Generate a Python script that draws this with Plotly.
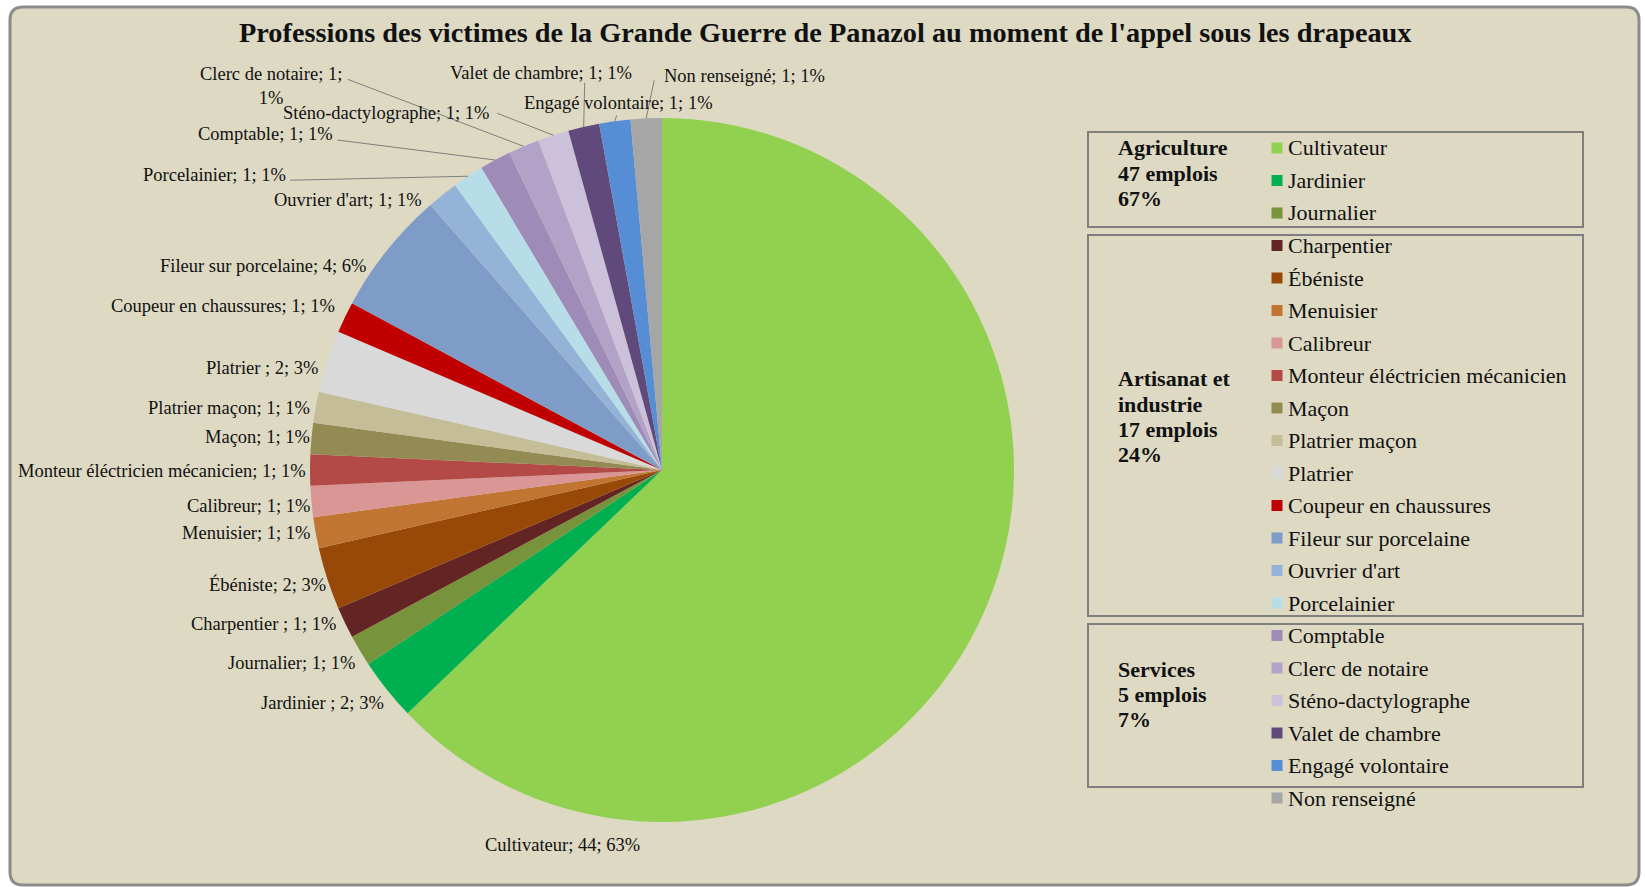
import math
import plotly.graph_objects as go

# ---------------- data ----------------
professions = ["Cultivateur", "Jardinier", "Journalier", "Charpentier", "Ébéniste",
               "Menuisier", "Calibreur", "Monteur éléctricien mécanicien", "Maçon",
               "Platrier maçon", "Platrier", "Coupeur en chaussures", "Fileur sur porcelaine",
               "Ouvrier d'art", "Porcelainier", "Comptable", "Clerc de notaire",
               "Sténo-dactylographe", "Valet de chambre", "Engagé volontaire", "Non renseigné"]
counts = [44, 2, 1, 1, 2, 1, 1, 1, 1, 1, 2, 1, 4, 1, 1, 1, 1, 1, 1, 1, 1]
label_names = ["Cultivateur", "Jardinier ", "Journalier", "Charpentier ", "Ébéniste",
               "Menuisier", "Calibreur", "Monteur éléctricien mécanicien", "Maçon",
               "Platrier maçon", "Platrier ", "Coupeur en chaussures", "Fileur sur porcelaine",
               "Ouvrier d'art", "Porcelainier", "Comptable", "Clerc de notaire",
               "Sténo-dactylographe", "Valet de chambre", "Engagé volontaire", "Non renseigné"]
groups = [["Agriculture", "47 emplois", "67%"],
          ["Artisanat et", "industrie", "17 emplois", "24%"],
          ["Services", "5 emplois", "7%"]]
title = "Professions des victimes de la Grande Guerre de Panazol au moment de l'appel sous les drapeaux"

# ---------------- style ----------------
colors = ["#92D050", "#00B050", "#77933C", "#632523", "#984807", "#C27433", "#D99694",
          "#B34A47", "#948A54", "#C4BD97", "#D9D9D9", "#C00000", "#7F9CC8", "#95B3D7",
          "#B7DEE8", "#9F8BB8", "#B3A2C7", "#CCC1DA", "#604A7B", "#558ED5", "#A6A6A6"]
W, H = 1645, 887
BG = "#DDD9C3"
CX, CY, R = 662, 470, 352           # pie centre / radius in px
FAM = "Liberation Serif"
LABEL_FONT = dict(family=FAM, size=18.5, color="#111111")
LEG_FONT = dict(family=FAM, size=22, color="#111111")
GRP_FONT = dict(family=FAM, size=22, color="#111111")

# label placement relative to slice-edge anchor (px): (dx, dy, xanchor, line_start or None)
label_layout = {
    0: (-423, 237, "center", None),
    1: (-1, 14, "right", None), 2: (-3, 12, "right", None), 3: (-7, 1, "right", None),
    4: (1, 6, "right", None), 5: (-4, 0, "right", None), 6: (1, 4, "right", None),
    7: (-2, 1, "right", None), 8: (1, -1, "right", None), 9: (-4, 1, "right", None),
    10: (-6, 7, "right", None), 11: (-8, -11, "right", None), 12: (-18, 15, "right", None),
    13: (-19, 5, "right", None),
    14: (-180, -1, "right", (-178, 4)),
    15: (-160, -26, "right", (-158, -20)),
    16: (-253, -60, "center", (-176, -67)),
    17: (-61, -22, "right", (-56, -22)),
    18: (-43, -54, "center", (1, -44)),
    19: (4, -18, "center", (2, -6)),
    20: (16, -42, "left", (8, -38)),
}


def px(x):
    return x / W


def py(y):
    return 1 - y / H


fig = go.Figure()
fig.add_trace(go.Pie(
    labels=professions, values=counts, sort=False, direction="clockwise", rotation=0,
    marker=dict(colors=colors, line=dict(width=0)), textinfo="none", showlegend=False,
    domain=dict(x=[px(CX - R), px(CX + R)], y=[py(CY + R), py(CY - R)]),
    hovertemplate="%{label}; %{value}; %{percent}<extra></extra>"))

shapes = []
annotations = []

# frame
x0, x1, y0, y1, rr = px(10), px(1639), py(885), py(7), 13
rx, ry = rr / W, rr / H
path = (f"M {x0+rx},{y1} L {x1-rx},{y1} Q {x1},{y1} {x1},{y1-ry} "
        f"L {x1},{y0+ry} Q {x1},{y0} {x1-rx},{y0} L {x0+rx},{y0} Q {x0},{y0} {x0},{y0+ry} "
        f"L {x0},{y1-ry} Q {x0},{y1} {x0+rx},{y1} Z")
shapes.append(dict(type="path", path=path, xref="paper", yref="paper", fillcolor=BG,
                   line=dict(color="#8C8C8C", width=3), layer="below"))

# title
annotations.append(dict(text=f"<b>{title}</b>", x=px(825), y=py(33), xref="paper", yref="paper",
                        showarrow=False, xanchor="center", yanchor="middle",
                        font=dict(family=FAM, size=28.3, color="#111111")))

# data labels
total = sum(counts)
cum = 0
for i, (name, v) in enumerate(zip(label_names, counts)):
    mid = (cum + v / 2) / total * 2 * math.pi
    cum += v
    ax = CX + R * math.sin(mid)
    ay = CY - R * math.cos(mid)
    pct = round(100 * v / total)
    txt = f"{name}; {v}; {pct}%"
    if i == 16:
        txt = f"{name}; {v};<br>{pct}%"
    dx, dy, anchor, ls = label_layout[i]
    annotations.append(dict(text=txt, x=px(ax + dx), y=py(ay + dy), xref="paper", yref="paper",
                            showarrow=False, xanchor=anchor, yanchor="middle", align="center",
                            font=LABEL_FONT))
    if ls is not None:
        shapes.append(dict(type="line", xref="paper", yref="paper",
                           x0=px(ax + ls[0]), y0=py(ay + ls[1]), x1=px(ax), y1=py(ay),
                           line=dict(color="#7F7F7F", width=1)))

# legend
ROW0, ROWH = 148, 32.5
SQ_X, TXT_X, SQ = 1277, 1286, 11
for i, (name, c) in enumerate(zip(professions, colors)):
    yc = ROW0 + i * ROWH
    shapes.append(dict(type="rect", xref="paper", yref="paper",
                       x0=px(SQ_X - SQ / 2), x1=px(SQ_X + SQ / 2),
                       y0=py(yc + SQ / 2), y1=py(yc - SQ / 2),
                       fillcolor=c, line=dict(width=0)))
    annotations.append(dict(text=name, x=px(TXT_X), y=py(yc), xref="paper", yref="paper",
                            showarrow=False, xanchor="left", yanchor="middle", font=LEG_FONT))

box_edges = [(132, 227), (235, 616), (624, 787)]
grp_first_line = [148, 379, 669]
GRP_LINE = 25.3
for lines, (top, bot), gy in zip(groups, box_edges, grp_first_line):
    shapes.append(dict(type="rect", xref="paper", yref="paper", x0=px(1088), x1=px(1583),
                       y0=py(bot), y1=py(top), line=dict(color="#7F7F7F", width=2)))
    for k, line in enumerate(lines):
        annotations.append(dict(text=f"<b>{line}</b>", x=px(1116), y=py(gy + k * GRP_LINE),
                                xref="paper", yref="paper", showarrow=False,
                                xanchor="left", yanchor="middle", font=GRP_FONT))

fig.update_layout(width=W, height=H, margin=dict(l=0, r=0, t=0, b=0),
                  paper_bgcolor="white", plot_bgcolor="white",
                  shapes=shapes, annotations=annotations, showlegend=False)
fig.write_html("out.html", config={"displayModeBar": False},
               post_script="document.body.style.margin='0';"
                           "document.documentElement.style.overflow='hidden';")
